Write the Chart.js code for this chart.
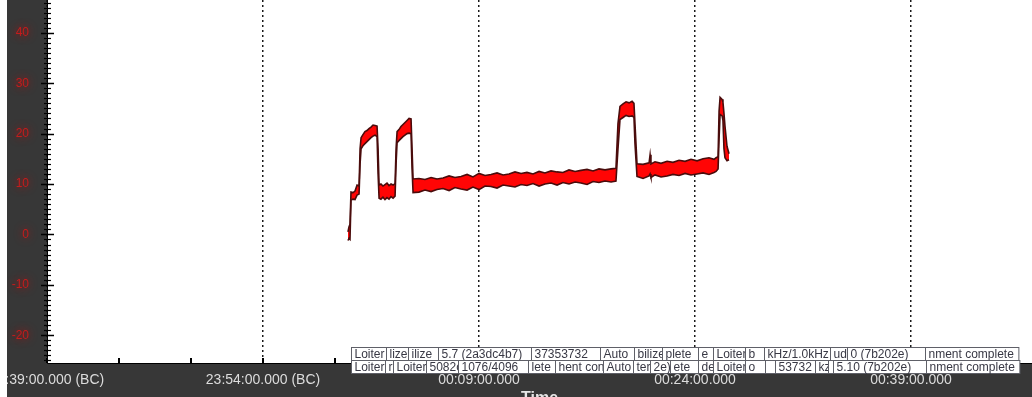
<!DOCTYPE html>
<html>
<head>
<meta charset="utf-8">
<script src="https://cdn.jsdelivr.net/npm/chart.js@4.4.1/dist/chart.umd.min.js"></script>
<style>
  html, body { margin: 0; padding: 0; background: #ffffff; }
  #wrap { width: 1032px; height: 397px; position: relative; }
</style>
</head>
<body>
<div id="wrap"><canvas id="graph" width="1032" height="397"></canvas></div>
<script>
// Time in minutes relative to 00:09:00
const timeMin = [
  -9.10, -9.03, -8.96, -8.89, -8.75, -8.61, -8.47, -8.33, -8.26, -8.19,
  -8.06, -7.92, -7.78, -7.64, -7.50, -7.36, -7.22, -7.08, -7.01, -6.94,
  -6.81, -6.67, -6.53, -6.39, -6.25, -6.11, -5.97, -5.83, -5.76, -5.69,
  -5.56, -5.42, -5.28, -5.14, -5.00, -4.86, -4.72, -4.65, -4.58, -4.17,
  -3.75, -3.33, -2.92, -2.50, -2.08, -1.67, -1.25, -0.83, -0.42, 0.00,
  0.42, 0.83, 1.25, 1.67, 2.08, 2.50, 2.92, 3.33, 3.75, 4.17,
  4.58, 5.00, 5.42, 5.83, 6.25, 6.67, 7.08, 7.50, 7.92, 8.33,
  8.75, 9.17, 9.51, 9.65, 9.79, 10.00, 10.21, 10.42, 10.63, 10.76,
  10.83, 10.97, 11.39, 11.81, 11.88, 11.94, 12.22, 12.64, 13.06, 13.47,
  13.89, 14.31, 14.72, 15.14, 15.56, 15.97, 16.32, 16.46, 16.60, 16.67,
  16.74, 16.88, 16.94, 17.01, 17.08, 17.22, 17.36
];
// Lower edge of the sample envelope
const lowVal = [
  -1.2, -0.8, -1.0, 6.8, 7.0, 6.9, 7.8, 8.0, 14.0, 17.0,
  17.6, 18.0, 18.4, 18.8, 19.2, 19.5, 19.7, 19.4, 12.0, 7.2,
  7.0, 7.4, 6.9, 7.3, 7.0, 7.5, 7.2, 7.6, 14.0, 18.2,
  18.6, 19.0, 19.4, 19.7, 20.0, 20.1, 20.0, 13.0, 8.3, 8.4,
  8.8, 8.5, 8.9, 9.1, 8.7, 9.3, 9.0, 8.8, 9.4, 8.9,
  9.6, 9.5, 9.2, 9.8, 9.6, 9.4, 9.9, 9.7, 10.1, 9.6,
  10.0, 10.2, 9.8, 10.3, 10.0, 10.4, 10.2, 9.9, 10.5, 10.3,
  10.6, 10.4, 10.6, 17.0, 22.8, 23.2, 23.6, 23.4, 23.5, 23.2,
  18.0, 11.5, 11.1, 11.6, 12.0, 11.3, 11.8, 11.4, 11.6, 11.9,
  11.7, 12.1, 11.8, 12.0, 12.2, 11.9, 12.3, 12.5, 13.0, 19.0,
  23.8, 23.5, 22.6, 17.0, 15.2, 14.6, 14.8
];
// Upper edge of the sample envelope
const highVal = [
  0.5, 1.5, 2.0, 8.4, 8.3, 8.6, 9.8, 9.6, 17.0, 19.2,
  19.8, 20.4, 20.6, 21.0, 21.3, 21.7, 21.6, 21.5, 17.0, 9.8,
  10.0, 9.6, 9.9, 10.2, 9.7, 10.0, 9.8, 10.1, 17.0, 20.4,
  20.8, 21.4, 21.8, 22.2, 22.6, 23.0, 22.9, 17.0, 11.0, 11.1,
  10.9, 11.3, 11.0, 11.2, 11.6, 11.3, 11.5, 11.9, 11.4, 12.1,
  11.7, 11.9, 12.2, 11.8, 12.0, 12.4, 12.1, 12.3, 12.0, 12.5,
  12.2, 12.6, 12.4, 12.3, 12.8, 12.5, 12.7, 12.9, 12.6, 13.0,
  12.8, 13.0, 13.1, 22.0, 25.4, 25.9, 26.3, 26.1, 26.4, 26.0,
  22.0, 14.0, 13.9, 14.2, 15.8, 14.0, 14.4, 14.1, 14.5, 14.3,
  14.7, 14.5, 14.9, 14.6, 15.0, 15.2, 14.9, 15.2, 15.4, 24.5,
  27.2, 26.8, 26.2, 24.0, 21.5, 17.5, 16.0
];

// Time axis labels (major ticks every 15 minutes)
const xTickValues = [-30, -15, 0, 15, 30];
const xTickLabels = [
  '23:39:00.000 (BC)', '23:54:00.000 (BC)', '00:09:00.000', '00:24:00.000', '00:39:00.000'
];
const yTickValues = [-20, -10, 0, 10, 20, 30, 40];

// Message markers along the bottom (time in minutes, visible text)
const msgTopTimes = [-8.89, -6.46, -4.93, -2.85, 3.61, 8.40, 10.76, 12.71, 15.21, 16.25, 18.47, 19.79, 24.38, 25.56, 30.97];
const msgTopText = ['Loiter', 'lize', 'ilize', '5.7 (2a3dc4b7)', '37353732', 'Auto', 'bilize', 'plete', 'e', 'Loiter', 'b', 'kHz/1.0kHz', 'ud', '0 (7b202e)', 'nment complete'];
const msgBottomTimes = [-8.89, -6.53, -5.97, -3.68, -1.46, 3.40, 5.28, 8.61, 10.69, 11.88, 13.26, 15.21, 16.25, 18.47, 19.86, 20.56, 23.33, 24.24, 24.58, 31.04];
const msgBottomText = ['Loiter', 'r', 'Loiter', '5082c', '1076/4096', 'lete', 'hent con', 'Auto', 'ter', '2e)', 'ete', 'de', 'Loiter', 'o', '', '53732', 'kz', '', '5.10 (7b202e)', 'nment complete'];

const DARK = '#373737';
const PLOT_BOTTOM_H = 34;   // height of the time axis band
const AXIS_W = 47;          // width of the value axis band

const backdrop = {
  id: 'backdrop',
  beforeDraw(chart) {
    const ctx = chart.ctx;
    const W = chart.width, H = chart.height;
    ctx.save();
    ctx.fillStyle = '#ffffff';
    ctx.fillRect(0, 0, W, H);
    ctx.fillStyle = DARK;
    ctx.fillRect(7, 0, AXIS_W - 7, H);
    ctx.fillRect(7, chart.chartArea.bottom, W - 7, H - chart.chartArea.bottom);
    ctx.restore();
  }
};

// Red glow behind the value-axis labels
const glowLabels = {
  id: 'glowLabels',
  afterUpdate(chart) {
    const y = chart.scales.y;
    if (!y || y._glowPatched) return;
    const orig = y.drawLabels.bind(y);
    y.drawLabels = function (area) {
      const ctx = this.ctx;
      ctx.save();
      ctx.shadowColor = 'rgba(220,0,0,0.9)';
      ctx.shadowBlur = 8;
      orig(area);
      ctx.restore();
    };
    y._glowPatched = true;
  }
};

const axesAndMarkers = {
  id: 'axesAndMarkers',
  afterDraw(chart) {
    const ctx = chart.ctx;
    const a = chart.chartArea;
    const xs = chart.scales.x, ys = chart.scales.y;
    ctx.save();

    // axis lines
    ctx.strokeStyle = '#000';
    ctx.lineWidth = 1;
    ctx.beginPath();
    ctx.moveTo(a.left + 0.5, a.top);
    ctx.lineTo(a.left + 0.5, a.bottom + 0.5);
    ctx.lineTo(a.right, a.bottom + 0.5);
    ctx.stroke();

    // value-axis tick marks (every unit, longer at every 10)
    for (let v = Math.ceil(ys.min); v <= Math.floor(ys.max); v++) {
      const py = Math.round(ys.getPixelForValue(v)) + 0.5;
      const major = v % 10 === 0;
      ctx.lineWidth = major ? 1.5 : 1.2;
      ctx.beginPath();
      ctx.moveTo(a.left - (major ? 6 : 3), py);
      ctx.lineTo(a.left + (major ? 7 : 4), py);
      ctx.stroke();
    }

    // time-axis minor tick marks every 5 minutes
    ctx.lineWidth = 2;
    for (let t = -30; t <= xs.max; t += 5) {
      const px = Math.round(xs.getPixelForValue(t));
      ctx.beginPath();
      ctx.moveTo(px, a.bottom);
      ctx.lineTo(px, a.bottom - 5);
      ctx.stroke();
    }

    // message boxes
    const rowH = 13;
    const rows = [
      { times: msgTopTimes, text: msgTopText, top: 347 },
      { times: msgBottomTimes, text: msgBottomText, top: 347 + rowH }
    ];
    ctx.font = '12px "Liberation Sans", Arial, sans-serif';
    ctx.textBaseline = 'middle';
    rows.forEach(row => {
      row.times.forEach((t, i) => {
        const x0 = Math.round(xs.getPixelForValue(t)) + 0.5;
        let x1;
        if (i + 1 < row.times.length) {
          x1 = Math.round(xs.getPixelForValue(row.times[i + 1])) + 0.5;
        } else {
          x1 = x0 + ctx.measureText(row.text[i]).width + 8;
        }
        ctx.fillStyle = '#ffffff';
        ctx.fillRect(x0, row.top + 0.5, x1 - x0, rowH);
        ctx.strokeStyle = '#5f6068';
        ctx.lineWidth = 1;
        ctx.strokeRect(x0, row.top + 0.5, x1 - x0, rowH);
        ctx.save();
        ctx.beginPath();
        ctx.rect(x0, row.top, x1 - x0, rowH + 1);
        ctx.clip();
        ctx.fillStyle = '#383844';
        ctx.fillText(row.text[i], x0 + 3, row.top + rowH / 2 + 1);
        ctx.restore();
      });
    });

    // axis title, mostly below the visible edge
    ctx.fillStyle = '#e6e6e6';
    ctx.font = 'bold 16px "Liberation Sans", Arial, sans-serif';
    ctx.textAlign = 'center';
    ctx.textBaseline = 'top';
    ctx.fillText('Time', (a.left + a.right) / 2, 391);

    // left margin strip
    ctx.fillStyle = '#ffffff';
    ctx.fillRect(0, 0, 7, chart.height);
    ctx.restore();
  }
};

const chart = new Chart(document.getElementById('graph'), {
  type: 'line',
  data: {
    datasets: [
      {
        label: 'max',
        data: timeMin.map((t, i) => ({ x: t, y: highVal[i] })),
        borderColor: '#4a0c0c',
        borderWidth: 1.6,
        pointRadius: 0,
        fill: false,
        tension: 0
      },
      {
        label: 'min',
        data: timeMin.map((t, i) => ({ x: t, y: lowVal[i] })),
        borderColor: '#4a0c0c',
        borderWidth: 1.6,
        backgroundColor: '#ff0505',
        pointRadius: 0,
        fill: '-1',
        tension: 0
      }
    ]
  },
  options: {
    responsive: false,
    animation: false,
    layout: { padding: 0 },
    plugins: {
      legend: { display: false },
      tooltip: { enabled: false },
      title: { display: false }
    },
    scales: {
      x: {
        type: 'linear',
        min: -30,
        max: 38.4,
        afterBuildTicks(scale) {
          scale.ticks = xTickValues.map(v => ({ value: v }));
        },
        afterFit(scale) {
          scale.height = PLOT_BOTTOM_H;
          scale.paddingLeft = 0;
          scale.paddingRight = 0;
        },
        ticks: {
          autoSkip: false,
          maxRotation: 0,
          padding: 9,
          color: '#dcdcdc',
          font: { family: '"Liberation Sans", Arial, sans-serif', size: 14 },
          callback: v => xTickLabels[xTickValues.indexOf(v)]
        },
        grid: {
          color: '#1a1a1a',
          lineWidth: 1.5,
          drawTicks: false
        },
        border: { display: false, dash: [2, 3] }
      },
      y: {
        type: 'linear',
        min: -25.5,
        max: 46.5,
        afterBuildTicks(scale) {
          scale.ticks = yTickValues.map(v => ({ value: v }));
        },
        afterFit(scale) {
          scale.width = AXIS_W;
          scale.paddingTop = 0;
          scale.paddingBottom = 0;
        },
        ticks: {
          padding: 18,
          color: '#c41c1c',
          font: { family: '"Liberation Sans", Arial, sans-serif', size: 12 }
        },
        grid: { display: false, drawTicks: false },
        border: { display: false }
      }
    }
  },
  plugins: [backdrop, glowLabels, axesAndMarkers]
});
</script>
</body>
</html>
